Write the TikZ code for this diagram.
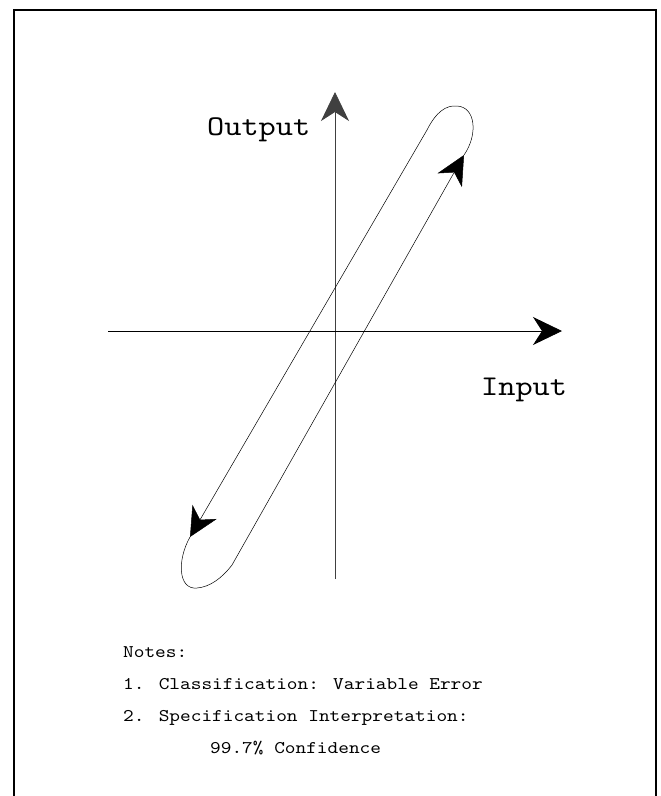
\documentclass[tikz,border=0pt]{standalone}
\usepackage{fontspec}
\newfontfamily\courlike[FakeStretch=1.143]{lmmono10-regular.otf}
\usetikzlibrary{arrows.meta}
\tikzset{
  bigtip/.style={-{Stealth[length=29pt,width=28pt,inset=9pt]}},
  axisline/.style={line width=0.8pt},
  loopline/.style={line width=0.5pt},
  label/.style={inner sep=0pt, anchor=base west, font=\courlike\fontsize{28.6}{34}\selectfont},
  note/.style={inner sep=0pt, anchor=base west, font=\courlike\fontsize{17.8}{22}\selectfont}
}
\begin{document}
\begin{tikzpicture}[x=1pt,y=-1pt]
\useasboundingbox (0,0) rectangle (661,796);
% frame
\coordinate (fbl) at (14,796);
\coordinate (ftl) at (14,10);
\coordinate (ftr) at (656,10);
\coordinate (fbr) at (656,796);
\draw[line width=1.2pt] (fbl) -- (ftl) -- (ftr) -- (fbr);
% axes
\coordinate (vb) at (335,579);
\coordinate (vt) at (335,92);
\coordinate (hl) at (108,331);
\coordinate (hr) at (562,331);
\draw[axisline, black!75, bigtip] (vb) -- (vt);
\draw[axisline, bigtip] (hl) -- (hr);
% loop
\coordinate (lt) at (427,130);
\coordinate (lb) at (190,537);
\coordinate (rb) at (232,565);
\coordinate (rt) at (464,155);
\draw[loopline, bigtip] (lt) -- (lb);
\draw[loopline, bigtip] (rb) -- (rt);
\draw[loopline] (lt) .. controls (436,112) and (446,105) .. (457,106)
  .. controls (476,107) and (478,135) .. (rt);
\draw[loopline] (lb) .. controls (177,560) and (178,590) .. (197,588)
  .. controls (210,587) and (222,578) .. (rb);
% labels
\node[label] (out) at (207,135) {Output};
\node[label] (in) at (481,395) {Input};
\node[note] (n0) at (123,657) {Notes:};
\node[note] (n1) at (123,689) {1. Classification: Variable Error};
\node[note] (n2) at (123,721) {2. Specification Interpretation:};
\node[note] (n3) at (210,753) {99.7\% Confidence};
\end{tikzpicture}
\end{document}
